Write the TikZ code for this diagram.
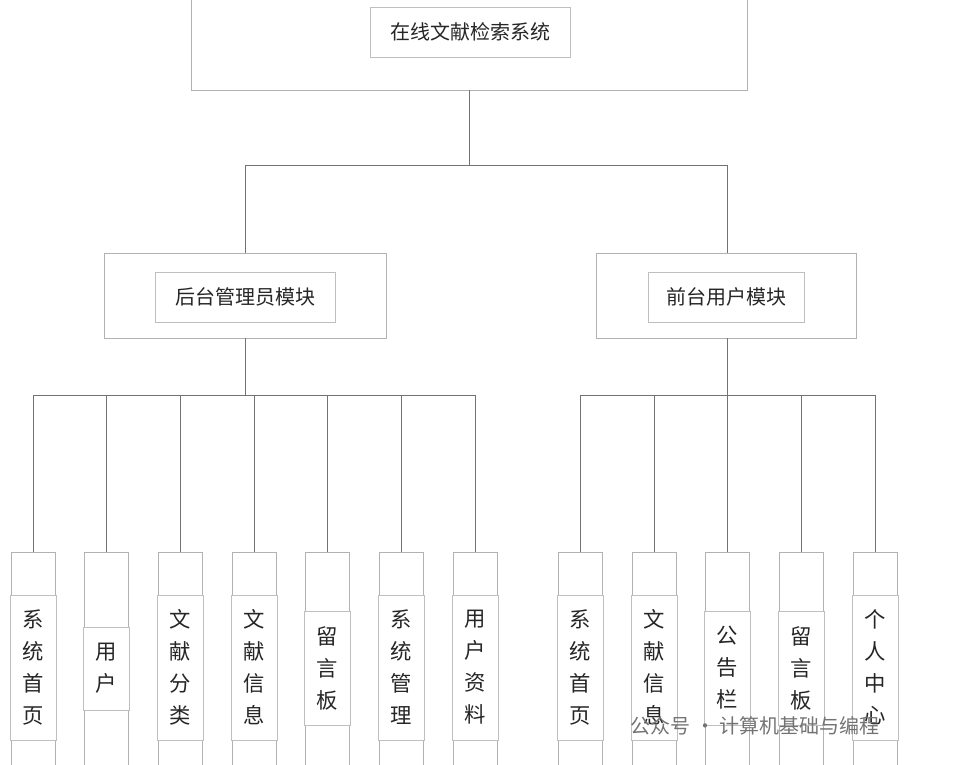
\documentclass[tikz,border=0pt]{standalone}
\usepackage{fontspec}
\setmainfont{Noto Sans CJK SC}
\begin{document}
\begin{tikzpicture}[x=0.75pt,y=-0.75pt,
  ln/.style={draw=black!55,line width=0.6pt},
  obox/.style={draw=black!30,line width=0.6pt},
  ibox/.style={draw=black!25,fill=white,line width=0.5pt},
  ttl/.style={font=\fontsize{15}{18}\selectfont,text=black!85},
  lf/.style={font=\fontsize{16}{24}\selectfont,text=black!85,align=center}]
\useasboundingbox (0,0) rectangle (980,764);
% top
\draw[obox] (191,-2) rectangle (747,90);
\node[ibox,minimum width=150pt,minimum height=37.5pt,ttl] (top) at (470,32) {在线文献检索系统};
\coordinate (tb) at (469,90);
% mid
\draw[obox] (104,253) rectangle (386,338);
\node[ibox,minimum width=135pt,minimum height=37.5pt,ttl] (adm) at (245,297) {后台管理员模块};
\draw[obox] (596,253) rectangle (856,338);
\node[ibox,minimum width=117pt,minimum height=37.5pt,ttl] (usr) at (726,297) {前台用户模块};
\coordinate (ab) at (245,338); \coordinate (ub) at (727,338);
\draw[ln] (tb) -- (469,165) -- (245,165) -- (245,253);
\draw[ln] (469,165) -- (727,165) -- (727,253);
\draw[ln] (ab) -- (245,395); \draw[ln] (33,395) -- (475,395);
\draw[ln] (ub) -- (727,395); \draw[ln] (580,395) -- (875,395);
% leaves
\foreach \x/\t/\a/\b [count=\i] in {
  33/系\\统\\首\\页/595/740, 106/用\\户/627/710, 180/文\\献\\分\\类/595/740,
  254/文\\献\\信\\息/595/740, 327/留\\言\\板/611/725, 401/系\\统\\管\\理/595/740,
  475/用\\户\\资\\料/595/740, 580/系\\统\\首\\页/595/740, 654/文\\献\\信\\息/595/740,
  727/公\\告\\栏/611/725, 801/留\\言\\板/611/725, 875/个\\人\\中\\心/595/740}{
  \draw[ln] (\x,395) -- (\x,552);
  \draw[obox] (\x-22,552) -- (\x+22,552) (\x-22,552) -- (\x-22,766) (\x+22,552) -- (\x+22,766);
  \node[ibox,minimum width=34.5pt,minimum height={(\b-\a)*0.75pt},lf,inner sep=0pt] (leaf\i) at (\x,{(\a+\b)/2}) {\t};
}
\node[text=black!55,font=\fontsize{15}{18}\selectfont,anchor=west] (wm) at (626,726) {公众号 · 计算机基础与编程};
\end{tikzpicture}
\end{document}
